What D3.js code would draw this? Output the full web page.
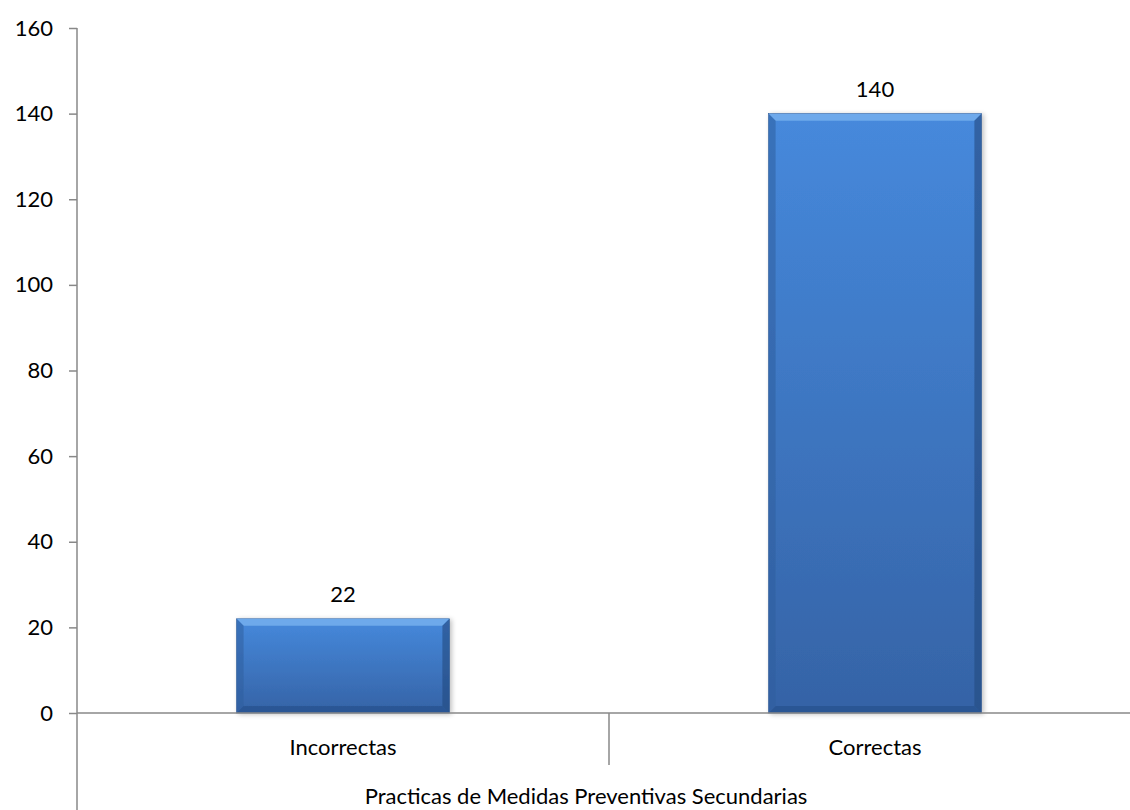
<!DOCTYPE html>
<html>
<head>
<meta charset="utf-8">
<script src="https://cdn.jsdelivr.net/npm/d3@7"></script>
<style>
  html, body { margin: 0; padding: 0; background: #ffffff; }
  svg { display: block; }
  text { font-family: Lato, "Open Sans", sans-serif; fill: #000; }
</style>
</head>
<body>
<svg id="chart" width="1130" height="810"></svg>
<script>
// Data
const categories = ["Incorrectas", "Correctas"];
const values = [22, 140];
const yTicks = [0, 20, 40, 60, 80, 100, 120, 140, 160];
const groupLabel = "Practicas de Medidas Preventivas Secundarias";

const svg = d3.select("#chart");
const plot = { left: 77, right: 1141, top: 28, bottom: 713 };
const fontSize = "22px";

const x = d3.scaleBand().domain(categories).range([plot.left, plot.right]).paddingInner(0).paddingOuter(0);
const barW = x.bandwidth() * 0.4;
const y = d3.scaleLinear().domain([0, 160]).range([plot.bottom, plot.top]);

const defs = svg.append("defs");
const g1 = defs.append("linearGradient").attr("id", "barFill").attr("x1", 0).attr("y1", 0).attr("x2", 0).attr("y2", 1);
g1.append("stop").attr("offset", "0%").attr("stop-color", "#4689dc");
g1.append("stop").attr("offset", "100%").attr("stop-color", "#3563a6");
const shadow = defs.append("filter").attr("id", "shadow").attr("x", "-10%").attr("y", "-10%").attr("width", "130%").attr("height", "130%");
shadow.append("feGaussianBlur").attr("in", "SourceAlpha").attr("stdDeviation", 2.5);
shadow.append("feOffset").attr("dx", 2).attr("dy", 1).attr("result", "b");
shadow.append("feComponentTransfer").append("feFuncA").attr("type", "linear").attr("slope", 0.25);
const mg = shadow.append("feMerge");
mg.append("feMergeNode");
mg.append("feMergeNode").attr("in", "SourceGraphic");

// Y axis
const yAxis = d3.axisLeft(y).tickValues(yTicks).tickSize(8).tickPadding(16);
const ya = svg.append("g").attr("transform", `translate(${plot.left},0)`).call(yAxis);
ya.select(".domain").remove();
ya.selectAll(".tick line").attr("stroke", "#888").attr("stroke-width", 1.5);
ya.selectAll(".tick text").style("font-size", fontSize).style("font-family", "Lato, 'Open Sans', sans-serif").attr("fill", "#000");
svg.append("line").attr("x1", plot.left).attr("x2", plot.left).attr("y1", plot.top).attr("y2", 810)
  .attr("stroke", "#888").attr("stroke-width", 1.5);

// Bars with bevel
const bev = 7;
const bars = svg.append("g").selectAll("g").data(categories).join("g").attr("filter", "url(#shadow)");
bars.each(function(c, i) {
  const gsel = d3.select(this);
  const cx = x(c) + x.bandwidth() / 2;
  const x0 = cx - barW / 2, x1 = cx + barW / 2;
  const y0 = y(values[i]), y1 = y(0);
  gsel.append("rect").attr("x", x0).attr("y", y0).attr("width", barW).attr("height", y1 - y0)
    .attr("fill", "url(#barFill)").attr("stroke", "#2f5a93").attr("stroke-width", 0.6);
  // top bevel
  gsel.append("polygon").attr("points", [[x0, y0], [x1, y0], [x1 - bev, y0 + bev], [x0 + bev, y0 + bev]].join(" "))
    .attr("fill", "#72adec").attr("opacity", 0.9);
  // left bevel
  gsel.append("polygon").attr("points", [[x0, y0], [x0 + bev, y0 + bev], [x0 + bev, y1 - bev], [x0, y1]].join(" "))
    .attr("fill", "#2f5f9e").attr("opacity", 0.55);
  // right bevel
  gsel.append("polygon").attr("points", [[x1, y0], [x1 - bev, y0 + bev], [x1 - bev, y1 - bev], [x1, y1]].join(" "))
    .attr("fill", "#23497e").attr("opacity", 0.6);
  // bottom bevel
  gsel.append("polygon").attr("points", [[x0, y1], [x0 + bev, y1 - bev], [x1 - bev, y1 - bev], [x1, y1]].join(" "))
    .attr("fill", "#264f88").attr("opacity", 0.6);
  // value label
  svg.append("text").attr("x", cx).attr("y", y0 - 17).attr("text-anchor", "middle")
    .style("font-size", fontSize).text(values[i]);
});

// X axis line and category divider
svg.append("line").attr("x1", plot.left).attr("x2", 1130).attr("y1", plot.bottom).attr("y2", plot.bottom)
  .attr("stroke", "#888").attr("stroke-width", 1.5);
categories.slice(1).forEach(c => {
  svg.append("line").attr("x1", x(c)).attr("x2", x(c)).attr("y1", plot.bottom).attr("y2", 765)
    .attr("stroke", "#888").attr("stroke-width", 1.5);
});

// Category labels
svg.append("g").selectAll("text").data(categories).join("text")
  .attr("x", d => x(d) + x.bandwidth() / 2).attr("y", 755).attr("text-anchor", "middle")
  .style("font-size", fontSize).text(d => d);

// Group label
svg.append("text").attr("x", 586).attr("y", 804).attr("text-anchor", "middle")
  .style("font-size", fontSize).text(groupLabel);
</script>
</body>
</html>
